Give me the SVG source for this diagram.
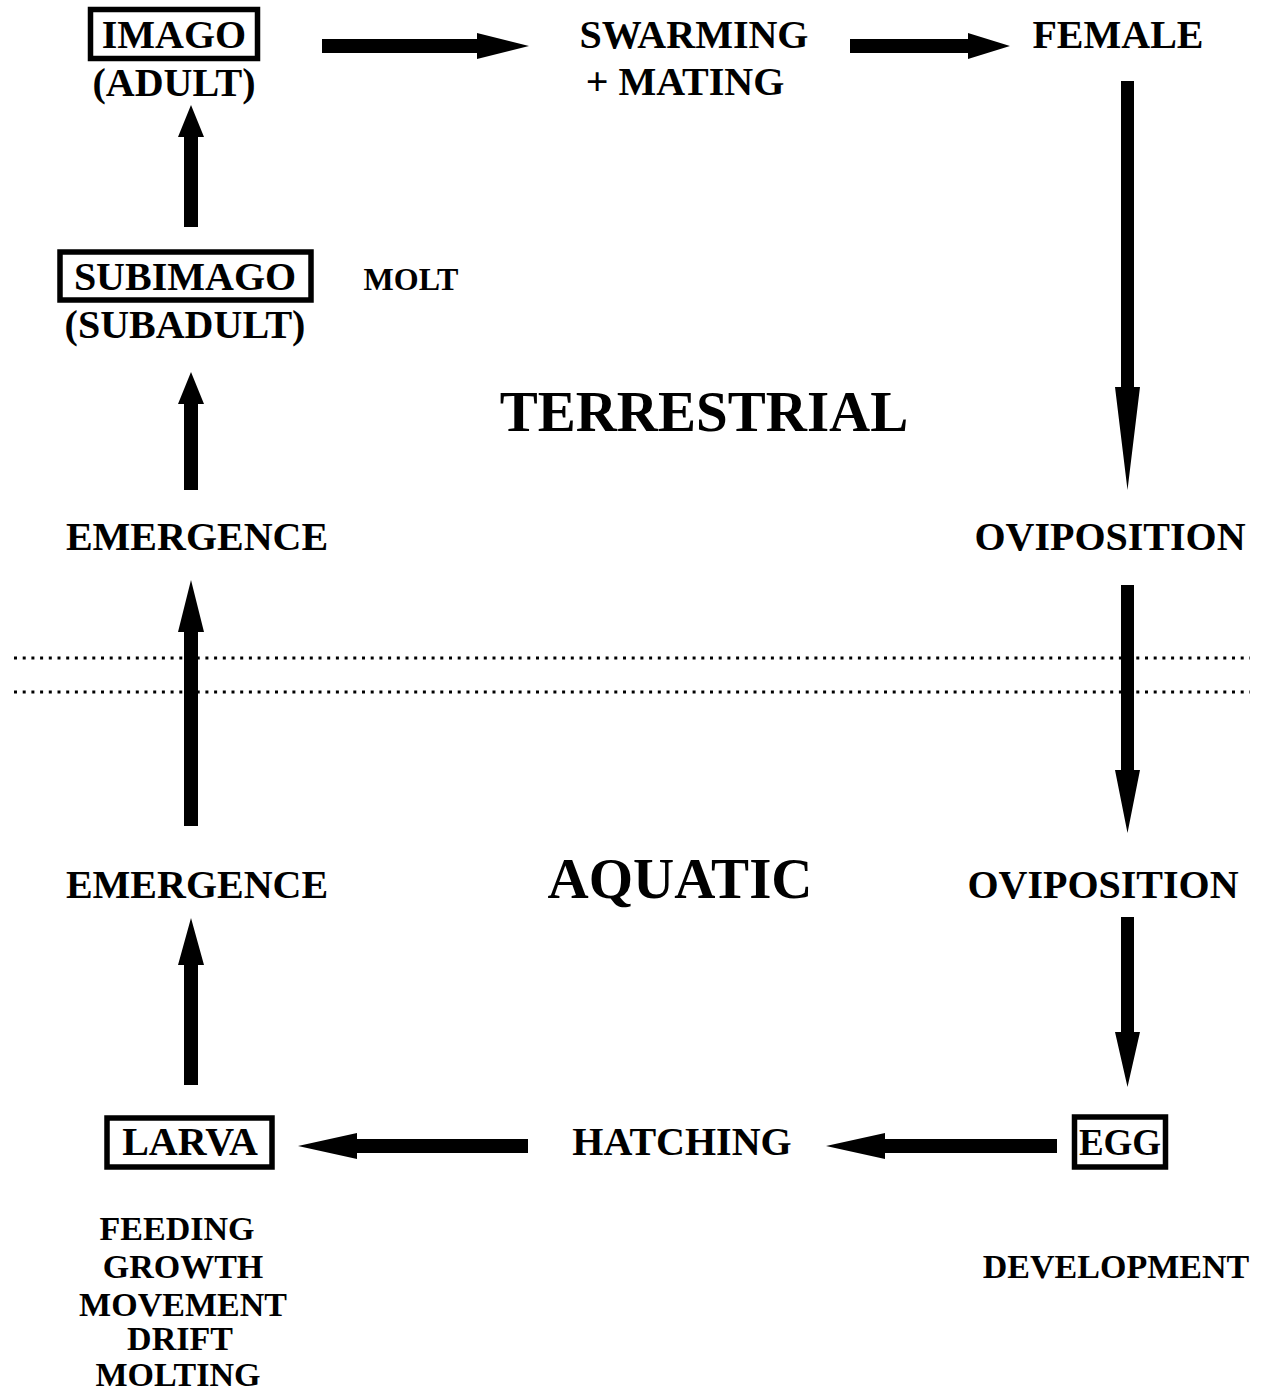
<svg xmlns="http://www.w3.org/2000/svg" width="1262" height="1391" viewBox="0 0 1262 1391">
<style>
text{font-family:"Liberation Serif","Times New Roman",serif;font-weight:bold;fill:#000;text-anchor:middle}
.l{font-size:40px}
.e{font-size:37px}
.s{font-size:34px}
.m{font-size:32px}
.xl{font-size:57px}
.box{fill:none;stroke:#000;stroke-width:5.5}
.arr{fill:#000;stroke:none}
.dot{fill:none;stroke:#000;stroke-width:3;stroke-dasharray:3 5.7}
</style>
<rect width="1262" height="1391" fill="#fff"/>
<g id="separators">
<line class="dot" x1="14" y1="658" x2="1250" y2="658"/>
<line class="dot" x1="14" y1="692" x2="1250" y2="692"/>
</g>
<g id="connectors">
<path class="arr" d="M322 39H477V33L529 46L477 59V53H322Z"/>
<path class="arr" d="M850 39H968V33L1010 46L968 59V53H850Z"/>
<path class="arr" d="M1121 81H1134V387H1140L1127.5 490L1115 387H1121Z"/>
<path class="arr" d="M1121 585H1134V770H1140L1127.5 833L1115 770H1121Z"/>
<path class="arr" d="M1121 917H1134V1032H1140L1127.5 1087L1115 1032H1121Z"/>
<path class="arr" d="M1057 1139V1153H885V1159L826 1146L885 1133V1139Z"/>
<path class="arr" d="M528 1139V1153H357V1159L298 1146L357 1133V1139Z"/>
<path class="arr" d="M184 1085V965H178L191 918L204 965H198V1085Z"/>
<path class="arr" d="M184 826V632H178L191 580L204 632H198V826Z"/>
<path class="arr" d="M184 490V404H178L191 372L204 404H198V490Z"/>
<path class="arr" d="M184 227V137H178L191 105L204 137H198V227Z"/>
</g>
<g id="imago">
<rect class="box" x="90.5" y="9.5" width="167" height="49"/>
<text class="l" x="174" y="48">IMAGO</text>
<text class="l" x="174" y="96">(ADULT)</text>
</g>
<g id="swarming">
<text class="l" x="694" y="48">SWARMING</text>
<text class="l" x="685" y="95">+ MATING</text>
</g>
<g id="female">
<text class="l" x="1118" y="48">FEMALE</text>
</g>
<g id="subimago">
<rect class="box" x="60" y="252" width="251" height="48"/>
<text class="l" x="185" y="290">SUBIMAGO</text>
<text class="l" x="185" y="338">(SUBADULT)</text>
</g>
<g id="molt">
<text class="m" x="411" y="290">MOLT</text>
</g>
<g id="terrestrial">
<text class="xl" x="704" y="431">TERRESTRIAL</text>
</g>
<g id="emergence-upper">
<text class="l" x="197" y="550">EMERGENCE</text>
</g>
<g id="oviposition-upper">
<text class="l" x="1110" y="550">OVIPOSITION</text>
</g>
<g id="emergence-lower">
<text class="l" x="197" y="898">EMERGENCE</text>
</g>
<g id="aquatic">
<text class="xl" x="680" y="898">AQUATIC</text>
</g>
<g id="oviposition-lower">
<text class="l" x="1103" y="898">OVIPOSITION</text>
</g>
<g id="larva">
<rect class="box" x="107" y="1118" width="165" height="49"/>
<text class="l" x="190" y="1155">LARVA</text>
</g>
<g id="hatching">
<text class="l" x="682" y="1155">HATCHING</text>
</g>
<g id="egg">
<rect class="box" x="1074.5" y="1117" width="91" height="50"/>
<text class="e" x="1120" y="1155">EGG</text>
</g>
<g id="larva-activities">
<text class="s" x="177" y="1240">FEEDING</text>
<text class="s" x="183" y="1278">GROWTH</text>
<text class="s" x="183" y="1316">MOVEMENT</text>
<text class="s" x="180" y="1350">DRIFT</text>
<text class="s" x="178" y="1386">MOLTING</text>
</g>
<g id="development">
<text class="s" x="1116" y="1278">DEVELOPMENT</text>
</g>
</svg>
